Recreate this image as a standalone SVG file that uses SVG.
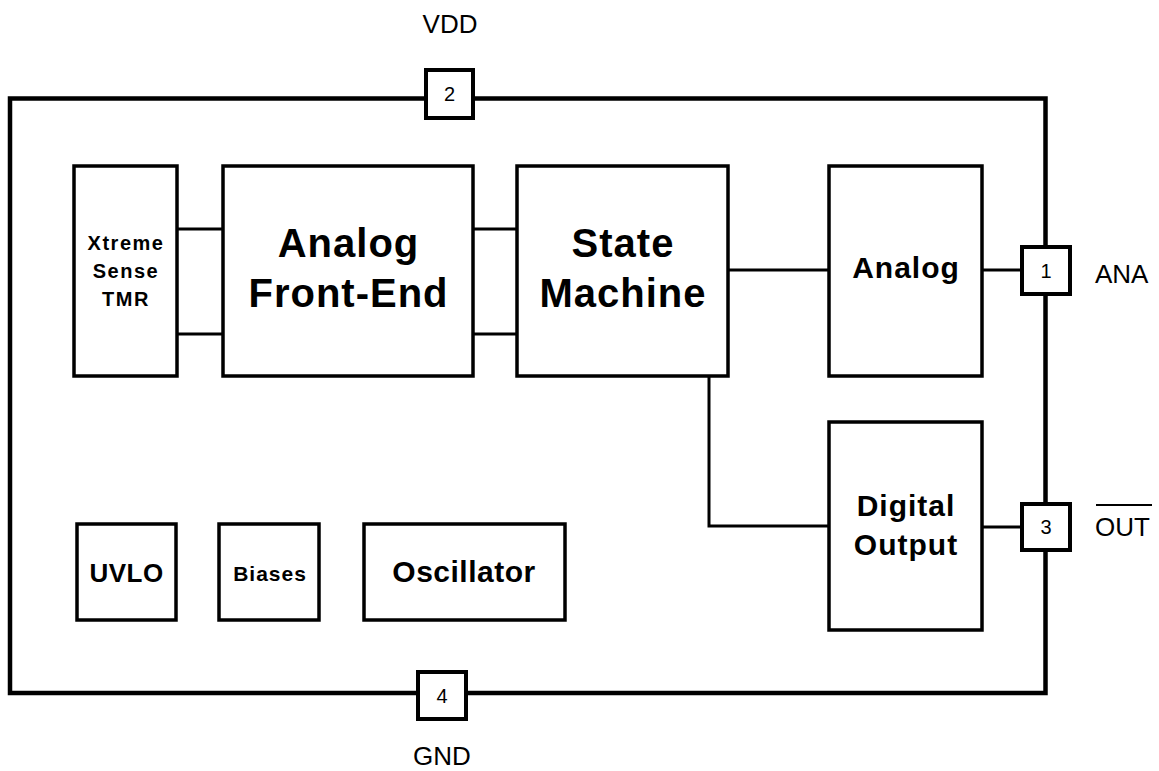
<svg xmlns="http://www.w3.org/2000/svg" width="1159" height="771" viewBox="0 0 1159 771">
<style>
text{font-family:"Liberation Sans",Arial,sans-serif;fill:#000}
.blk{fill:#fff;stroke:#000;stroke-width:3.5}
.pin{fill:#fff;stroke:#000;stroke-width:4}
.frame{fill:none;stroke:#000;stroke-width:4.5}
.wire{fill:none;stroke:#000;stroke-width:3}
.b{font-weight:bold;text-anchor:middle}
.pn{font-size:20px;text-anchor:middle}
.lbl{font-size:26px}
</style>
<rect width="1159" height="771" fill="#fff"/>
<g id="frame"><rect class="frame" x="10" y="98.5" width="1035.5" height="594.5"/></g>
<g id="connectors">
<path class="wire" d="M177 229H223M177 334H223M473 229H517M473 334H517M728 270H829M982 270H1022M709 376V526H829M982 527H1022"/>
</g>
<g id="xtreme"><rect class="blk" x="74" y="166" width="103" height="210"/>
<text class="b" font-size="20" letter-spacing="1.5" x="126" y="250">Xtreme</text>
<text class="b" font-size="20" letter-spacing="1.5" x="126" y="278">Sense</text>
<text class="b" font-size="20" letter-spacing="1.5" x="126" y="306">TMR</text></g>
<g id="afe"><rect class="blk" x="223" y="166" width="250" height="210"/>
<text class="b" font-size="40" letter-spacing="1" x="348.5" y="257">Analog</text>
<text class="b" font-size="40" letter-spacing="1" x="348.5" y="307">Front-End</text></g>
<g id="statemachine"><rect class="blk" x="517" y="166" width="211" height="210"/>
<text class="b" font-size="40" letter-spacing="1" x="623" y="257">State</text>
<text class="b" font-size="40" letter-spacing="1" x="623" y="307">Machine</text></g>
<g id="analog"><rect class="blk" x="829" y="166" width="153" height="210"/>
<text class="b" font-size="30" letter-spacing="1" x="906" y="278">Analog</text></g>
<g id="digitaloutput"><rect class="blk" x="829" y="422" width="153" height="208"/>
<text class="b" font-size="30" letter-spacing="1" x="906" y="516">Digital</text>
<text class="b" font-size="30" letter-spacing="1" x="906" y="555">Output</text></g>
<g id="uvlo"><rect class="blk" x="77" y="524" width="99" height="96"/>
<text class="b" font-size="26" letter-spacing="0.5" x="126.5" y="582">UVLO</text></g>
<g id="biases"><rect class="blk" x="219" y="524" width="100" height="96"/>
<text class="b" font-size="21" letter-spacing="1" x="270" y="581">Biases</text></g>
<g id="oscillator"><rect class="blk" x="364" y="524" width="201" height="96"/>
<text class="b" font-size="30" letter-spacing="0.5" x="464" y="582">Oscillator</text></g>
<g id="pin2"><rect class="pin" x="426" y="70" width="47" height="48"/>
<text class="pn" x="449.5" y="101">2</text>
<text class="lbl" text-anchor="middle" x="450" y="33">VDD</text></g>
<g id="pin1"><rect class="pin" x="1022" y="247" width="48" height="47"/>
<text class="pn" x="1046" y="277.5">1</text>
<text class="lbl" x="1095" y="283">ANA</text></g>
<g id="pin3"><rect class="pin" x="1022" y="504" width="48" height="46"/>
<text class="pn" x="1046" y="534">3</text>
<text class="lbl" x="1095" y="536">OUT</text>
<line x1="1096" y1="505" x2="1152" y2="505" stroke="#000" stroke-width="2"/></g>
<g id="pin4"><rect class="pin" x="418" y="672" width="48" height="47"/>
<text class="pn" x="442" y="702.5">4</text>
<text class="lbl" text-anchor="middle" x="442" y="765">GND</text></g>
</svg>
